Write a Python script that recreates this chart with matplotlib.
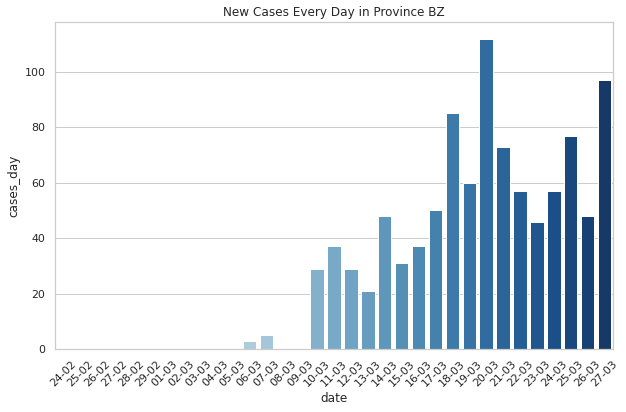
import matplotlib
matplotlib.use('Agg')
import matplotlib.pyplot as plt
import seaborn as sns

#==============================================================================
# Data: new cases per day
#==============================================================================

dates = ['24-02', '25-02', '26-02', '27-02', '28-02', '29-02',
         '01-03', '02-03', '03-03', '04-03', '05-03', '06-03', '07-03',
         '08-03', '09-03', '10-03', '11-03', '12-03', '13-03', '14-03',
         '15-03', '16-03', '17-03', '18-03', '19-03', '20-03', '21-03',
         '22-03', '23-03', '24-03', '25-03', '26-03', '27-03']
cases_day = [0, 0.5, 0, 0, 0, 0,
             0, 0, 0, 0, 0, 3, 5,
             0, 0, 29, 37, 29, 21, 48,
             31, 37, 50, 85, 60, 112, 73,
             57, 46, 57, 77, 48, 97]

sns.set_theme(style='whitegrid')

fig = plt.figure(figsize=(626 / 72, 412 / 72), dpi=72)
ax = fig.add_axes([55 / 626, 1 - 349 / 412, 558 / 626, 327 / 412])

sns.barplot(x=dates, y=cases_day, hue=dates, palette='Blues', legend=False, ax=ax)
ax.set_xlabel('date')
ax.set_ylabel('cases_day')
ax.set_title('New Cases Every Day in Province BZ')
ax.set_ylim(0, 118)
plt.setp(ax.get_xticklabels(), rotation=45)

fig.savefig('out.png', dpi=72)
